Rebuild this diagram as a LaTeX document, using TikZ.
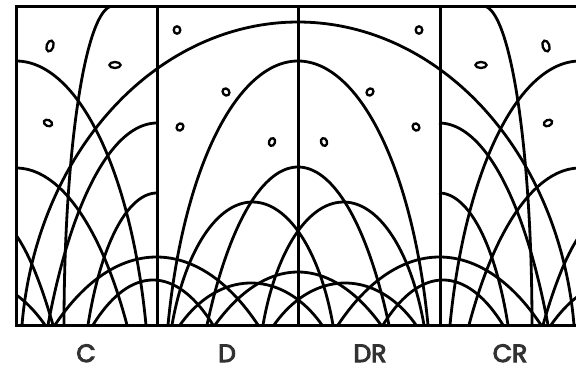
\documentclass[tikz,border=0pt]{standalone}
\usepackage{fontspec}
\newfontfamily\labelfont[FakeBold=4]{Poppins}
\newcommand{\myarch}[6]{% centre, half width, top y, start angle, end angle, ellipse cut k
  \pgfmathsetmacro{\archm}{sqrt(1-#6*#6)}
  \draw[archline] plot[smooth,samples=61,domain=#4:#5,variable=\t]
    ({#1+#2*sin(\t)},{325-(325-#3)*(sqrt(1-(#6*sin(\t))*(#6*sin(\t)))-\archm)/(1-\archm)});}
\newcommand{\mydot}[5]{\draw[dotline] (#1,#2) ellipse[x radius=#3,y radius=#4,rotate=#5];}
\newcommand{\halfpic}{%
  % column C, from the left edge
  \myarch{16}{130}{61}{0}{90}{.97}
  \myarch{16}{111}{168}{0}{90}{.8}
  \myarch{-11}{64}{216}{0}{90}{.3}
  \myarch{-13}{58}{285}{0}{90}{.3}
  % steep flank reaching the top
  \draw[archline] plot[smooth,samples=61,domain=-90:0,variable=\t]
    ({113+49*sin(\t)},{325-319*cos(\t)});
  % half arches ending at the first column line
  \myarch{157}{109}{123}{-90}{0}{.85}
  \myarch{157}{69}{193}{-90}{0}{.9}
  % arches around the first column line
  \myarch{156.5}{101.5}{257}{-90}{90}{.6}
  \myarch{153}{60}{280}{-90}{90}{.5}
  % column D arches
  \myarch{252.5}{80.5}{202}{-90}{90}{.93}
  \myarch{251}{71}{283}{-90}{90}{.7}
  % dots
  \mydot{50}{46}{5.6}{3.4}{72}
  \mydot{115}{65}{5.6}{3}{0}
  \mydot{48}{123}{4.4}{3}{-25}
  \mydot{177}{30}{3.7}{3.3}{90}
  \mydot{226}{92}{3.8}{3.2}{-50}
  \mydot{180}{127}{3.8}{3.2}{55}
  \mydot{272}{142}{4}{3}{70}
}
\definecolor{labelgrey}{HTML}{333133}
\tikzset{
  x=1pt,y=-1pt,
  archline/.style={line width=2.8pt,black},
  dotline/.style={line width=2.3pt,black},
  frameline/.style={line width=3pt,black},
  collabel/.style={font=\labelfont\fontsize{25}{27}\selectfont,text=labelgrey,inner sep=0pt,anchor=base}
}
\begin{document}
\begin{tikzpicture}
\useasboundingbox (0,0) rectangle (576,370);
\fill[white] (0,0) rectangle (576,370);
\begin{scope}
  \clip (16,6) rectangle (576,325);
  \halfpic
  \begin{scope}[shift={(298,0)},xscale=-1,shift={(-298,0)}]
    \halfpic
  \end{scope}
  % centred arches
  \myarch{298}{276}{22}{-90}{90}{.995}
  \myarch{298}{130}{61}{-90}{90}{.97}
  \myarch{298}{91}{167}{-90}{90}{.8}
  \myarch{298}{83}{272}{-90}{90}{.5}
\end{scope}
\draw[frameline] (576,6) -- (16,6) -- (16,325) -- (576,325);
\draw[frameline] (157,6) -- (157,325);
\draw[frameline] (298,6) -- (298,325);
\draw[frameline] (440,6) -- (440,325);
\node[collabel] (c) at (86,362) {C};
\node[collabel] (d) at (227,362) {D};
\node[collabel] (dr) at (370,362) {DR};
\node[collabel] (cr) at (510,362) {CR};
\end{tikzpicture}
\end{document}
